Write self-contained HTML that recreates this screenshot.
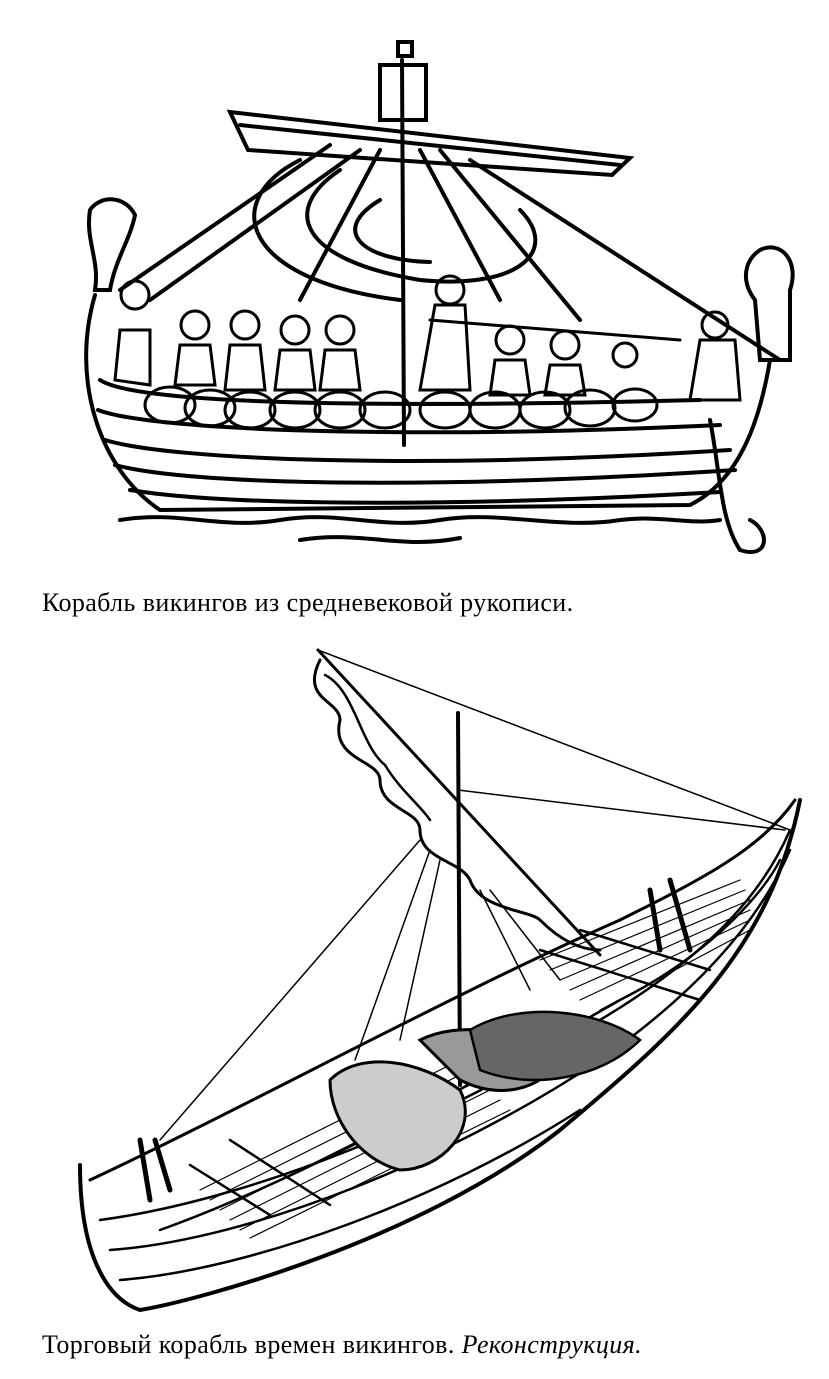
<!DOCTYPE html>
<html><head><meta charset="utf-8"><style>
html,body{margin:0;padding:0;background:#fff;}
body{width:829px;height:1379px;position:relative;overflow:hidden;}
.cap{position:absolute;left:42px;font-family:"Liberation Serif",serif;font-size:26px;color:#000;white-space:nowrap;letter-spacing:0.4px;}
</style></head><body>
<svg width="829" height="1379" style="position:absolute;left:0;top:0" fill="none" stroke="#000" stroke-linecap="round">
<!-- Ship 1 -->
<g stroke-width="4">
<line x1="402" y1="60" x2="404" y2="445"/>
<rect x="380" y="65" width="46" height="55"/>
<rect x="398" y="42" width="14" height="14"/>
<path d="M230 112 L630 158 L612 175 L248 150 Z"/>
<path d="M240 125 L620 165"/>
<path d="M300 160 C220 200 240 280 400 300"/>
<path d="M340 170 C280 210 300 260 420 280 C520 290 560 250 520 210"/>
<path d="M380 200 C330 230 360 260 430 262"/>
<line x1="380" y1="150" x2="300" y2="300"/>
<line x1="360" y1="150" x2="150" y2="300"/>
<line x1="420" y1="150" x2="500" y2="300"/>
<line x1="440" y1="150" x2="580" y2="320"/>
<line x1="470" y1="160" x2="780" y2="360"/>
<line x1="330" y1="145" x2="120" y2="290"/>
<path d="M95 295 C70 380 100 470 160 510 L690 505 C740 480 760 420 770 360"/>
<path d="M100 380 C130 400 300 410 700 400"/>
<path d="M98 410 C150 430 400 440 720 425"/>
<path d="M105 440 C170 460 420 470 730 450"/>
<path d="M115 465 C190 485 430 490 735 470"/>
<path d="M130 490 C220 505 440 508 720 492"/>
<path d="M710 420 C720 470 720 520 740 550 C770 560 770 530 750 520"/>
<path d="M90 210 C100 195 125 195 135 215 C130 240 115 260 110 290 L95 290 C100 260 85 240 90 210Z"/>
<path d="M760 250 C780 240 800 260 790 290 L790 360 L760 360 L755 300 C740 280 745 260 760 250Z"/>
<g stroke-width="3">
<ellipse cx="170" cy="405" rx="25" ry="18"/><ellipse cx="210" cy="408" rx="25" ry="18"/>
<ellipse cx="250" cy="410" rx="25" ry="18"/><ellipse cx="295" cy="410" rx="25" ry="18"/>
<ellipse cx="340" cy="410" rx="25" ry="18"/><ellipse cx="385" cy="410" rx="25" ry="18"/>
<ellipse cx="445" cy="410" rx="25" ry="18"/><ellipse cx="495" cy="410" rx="25" ry="18"/>
<ellipse cx="545" cy="410" rx="25" ry="18"/><ellipse cx="590" cy="408" rx="25" ry="18"/>
<ellipse cx="635" cy="405" rx="22" ry="16"/>
<circle cx="135" cy="295" r="14"/><circle cx="195" cy="325" r="14"/><circle cx="245" cy="325" r="14"/>
<circle cx="295" cy="330" r="14"/><circle cx="340" cy="330" r="14"/><circle cx="450" cy="290" r="14"/>
<circle cx="510" cy="340" r="14"/><circle cx="565" cy="345" r="14"/><circle cx="625" cy="355" r="12"/><circle cx="715" cy="325" r="13"/>
<path d="M120 330 L115 380 L150 385 L150 330Z"/><path d="M180 345 L175 385 L215 385 L210 345Z"/>
<path d="M230 345 L225 390 L265 390 L260 345Z"/><path d="M280 350 L275 390 L315 390 L310 350Z"/>
<path d="M325 350 L320 390 L360 390 L355 350Z"/><path d="M435 305 L420 390 L470 390 L465 305Z"/>
<path d="M495 360 L490 395 L530 395 L525 360Z"/><path d="M550 365 L545 395 L585 395 L580 365Z"/>
<path d="M700 340 L690 400 L740 400 L735 340Z"/>
<line x1="430" y1="320" x2="680" y2="340"/>
</g>
<path d="M120 520 C180 510 220 530 280 520 C340 510 380 530 440 520 C500 510 560 530 620 520 C660 515 690 525 720 520"/>
<path d="M300 540 C360 530 400 550 460 538"/>
</g>
<!-- Ship 2 -->
<g stroke-width="2.5">
<line x1="458" y1="713" x2="460" y2="1085" stroke-width="4"/>
<path d="M318 650 L600 955" stroke-width="3"/>
<path d="M320 660 C300 700 340 700 340 720 C330 760 380 760 380 780 C380 810 420 810 420 830 C420 860 460 860 470 880 C480 910 530 910 540 920 C560 940 580 950 600 950" stroke-width="3"/>
<path d="M325 675 C355 690 360 745 385 765 C400 790 420 805 430 820"/>
<line x1="318" y1="650" x2="790" y2="830" stroke-width="1.5"/>
<line x1="458" y1="790" x2="785" y2="830" stroke-width="1.5"/>
<line x1="420" y1="840" x2="160" y2="1140" stroke-width="1.5"/>
<line x1="430" y1="850" x2="355" y2="1060" stroke-width="1.5"/>
<line x1="440" y1="860" x2="400" y2="1040" stroke-width="1.5"/>
<line x1="480" y1="890" x2="530" y2="990" stroke-width="1.5"/>
<line x1="490" y1="890" x2="560" y2="980" stroke-width="1.5"/>
<path d="M80 1165 C80 1260 110 1300 140 1310 C200 1300 420 1240 560 1130 C680 1030 770 950 800 800" stroke-width="4"/>
<path d="M90 1180 C240 1110 460 990 620 920 C700 880 760 850 795 800" stroke-width="3"/>
<path d="M110 1250 C250 1240 450 1160 600 1060 C700 990 760 920 790 850"/>
<path d="M100 1220 C250 1200 450 1120 600 1020 C700 960 760 900 790 830"/>
<path d="M120 1280 C250 1270 440 1200 580 1110"/>
<path d="M160 1230 C300 1180 480 1080 620 1000 C700 960 760 900 780 860"/>
<path d="M190 1165 L270 1215"/><path d="M230 1140 L330 1205"/>
<path d="M540 950 L700 1000"/><path d="M580 930 L710 970"/>
<g stroke-width="1.2">
<path d="M200 1190 L460 1060"/><path d="M210 1200 L470 1070"/><path d="M220 1210 L480 1080"/>
<path d="M230 1220 L490 1090"/><path d="M240 1230 L500 1100"/><path d="M250 1238 L510 1110"/>
<path d="M540 960 L740 880"/><path d="M550 970 L745 890"/><path d="M560 980 L750 900"/>
<path d="M570 990 L750 910"/><path d="M580 1000 L750 920"/><path d="M600 1010 L750 930"/>
</g>
<path d="M330 1080 C360 1050 420 1060 460 1090 C480 1130 440 1170 400 1170 C360 1160 330 1120 330 1080Z" stroke-width="3" fill="#ccc"/>
<path d="M420 1040 C460 1020 520 1030 560 1060 C540 1090 500 1100 460 1080Z" stroke-width="3" fill="#999"/>
<path d="M470 1030 C520 1000 600 1010 640 1040 C600 1080 530 1090 480 1070Z" fill="#666"/>
<path d="M650 890 L660 950 M670 880 L690 950" stroke-width="5"/>
<path d="M140 1140 L150 1200 M155 1140 L170 1190" stroke-width="5"/>
</g>
</svg>
<div class="cap" style="top:588px;">Корабль викингов из средневековой рукописи.</div>
<div class="cap" style="top:1330px;">Торговый корабль времен викингов. <i>Реконструкция.</i></div>
</body></html>
